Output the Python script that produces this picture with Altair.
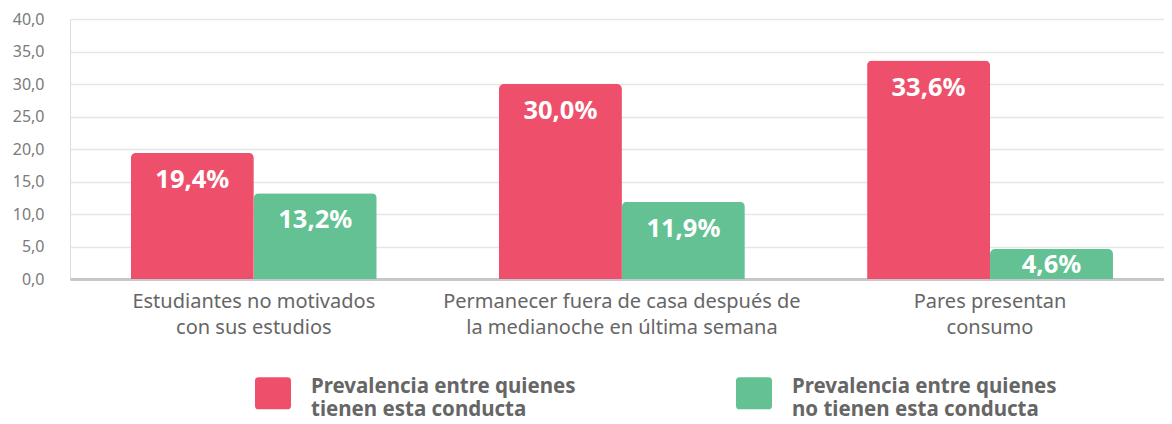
import altair as alt
import pandas as pd

categories = [
    "Estudiantes no motivados|con sus estudios",
    "Permanecer fuera de casa después de|la medianoche en última semana",
    "Pares presentan|consumo",
]
series = [
    "Prevalencia entre quienes|tienen esta conducta",
    "Prevalencia entre quienes|no tienen esta conducta",
]
con_conducta = [19.4, 30.0, 33.6]
sin_conducta = [13.2, 11.9, 4.6]
y_ticks = [0, 5, 10, 15, 20, 25, 30, 35, 40]
colors = ["#ee506b", "#63c193"]

rows = []
for i, c in enumerate(categories):
    rows.append({"cat": c, "serie": series[0], "val": con_conducta[i]})
    rows.append({"cat": c, "serie": series[1], "val": sin_conducta[i]})
df = pd.DataFrame(rows)

FONT = "Noto Sans"

x = alt.X(
    "cat:N",
    sort=categories,
    title=None,
    scale=alt.Scale(paddingInner=0.332, paddingOuter=0.152, align=0.544),
    axis=alt.Axis(
        labelAngle=0,
        labelExpr="split(datum.label, '|')",
        labelFontSize=20,
        labelColor="#666666",
        labelFont=FONT,
        labelLineHeight=26,
        labelPadding=28,
        labelLimit=500,
        labelOverlap=False,
        ticks=False,
        domainColor="#c6c8cb",
        domainWidth=3,
        labelBaseline="alphabetic",
    ),
)
y_scale = alt.Scale(domain=[0, 40], nice=False)
y_axis = alt.Axis(
    values=y_ticks,
    labelExpr="replace(format(datum.value, '.1f'), '.', ',')",
    labelFontSize=16,
    labelColor="#7a7a7a",
    labelFont=FONT,
    labelPadding=26,
    labelLineHeight=18,
    labelOverlap=False,
    ticks=False,
    domain=False,
    gridColor="#e4e6e8",
    gridWidth=1.5,
)
y = alt.Y("val:Q", title=None, scale=y_scale, axis=y_axis)

rounded = ("M -0.8,-0.89 L 0.8,-0.89 Q 1,-0.89 1,-0.69 L 1,0.69 Q 1,0.89 0.8,0.89 "
           "L -0.8,0.89 Q -1,0.89 -1,0.69 L -1,-0.69 Q -1,-0.89 -0.8,-0.89 Z")

color = alt.Color(
    "serie:N",
    sort=series,
    scale=alt.Scale(domain=series, range=colors),
    legend=alt.Legend(
        title=None,
        orient="none",
        direction="horizontal",
        legendX=185,
        legendY=356,
        symbolType=rounded,
        symbolSize=1296,
        symbolStrokeWidth=0,
        symbolOpacity=1,
        labelExpr="split(datum.label, '|')",
        labelFontSize=20.5,
        labelFontWeight="bold",
        labelColor="#666666",
        labelFont=FONT,
        labelBaseline="alphabetic",
        labelOffset=20,
        labelLimit=400,
        columnPadding=160,
    ),
)

base = alt.Chart(df).encode(x=x, xOffset=alt.XOffset("serie:N", sort=series))

bars = base.mark_bar(cornerRadiusTopLeft=5, cornerRadiusTopRight=5).encode(y=y, color=color)

labels = base.transform_calculate(
    lbl="replace(format(datum.val, '.1f'), '.', ',') + '%'",
    ypos="max(datum.val - 4.15, 2.1)",
).mark_text(
    color="white", fontSize=25.5, fontWeight="bold", font=FONT, baseline="middle"
).encode(y=alt.Y("ypos:Q", title=None, scale=y_scale, axis=y_axis), text="lbl:N")

chart = (
    alt.layer(bars, labels)
    .properties(
        width=1094,
        height=260,
        autosize=alt.AutoSizeParams(type="none"),
        padding={"left": 62, "top": 11, "right": 0, "bottom": 137},
    )
    .configure_view(stroke=None)
    .configure(background="white", style={"guide-label": {"lineHeight": 23}})
)

chart.save("out.html", embed_options={"renderer": "svg", "actions": False})
